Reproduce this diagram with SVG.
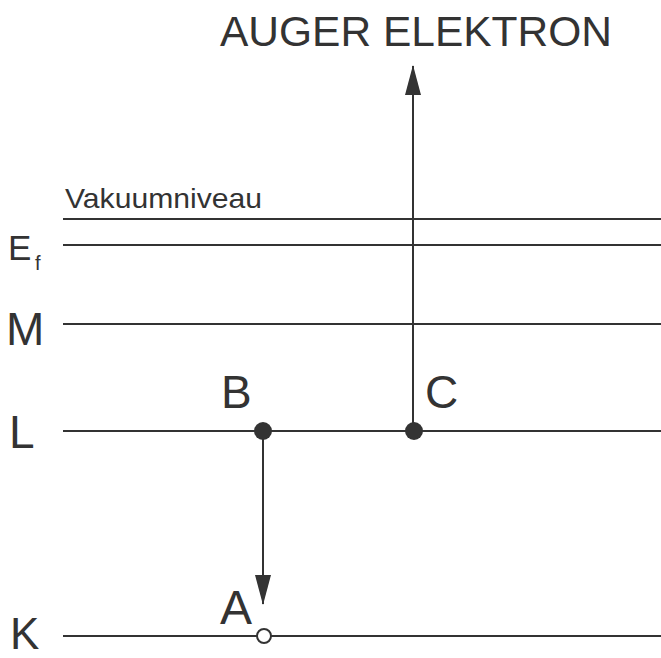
<svg xmlns="http://www.w3.org/2000/svg" width="661" height="658" viewBox="0 0 661 658">
<defs>
<style>
.lvl{stroke:#333;stroke-width:2.2;fill:none}
.t{font-family:"Liberation Sans",Arial,sans-serif;fill:#333}
.ar{stroke:#333;stroke-width:2;fill:none}
</style>
<marker id="ah" viewBox="0 0 30 16" refX="29" refY="8" markerWidth="30" markerHeight="16" markerUnits="userSpaceOnUse" orient="auto">
<path d="M0,0 L30,8 L0,16 Z" fill="#333"/>
</marker>
</defs>
<rect width="661" height="658" fill="#fff"/>
<g id="levels">
<g id="vakuum"><line class="lvl" x1="63" y1="219" x2="661" y2="219"/><text class="t" x="65" y="208" font-size="28" textLength="197" lengthAdjust="spacingAndGlyphs">Vakuumniveau</text></g>
<g id="ef"><line class="lvl" x1="63" y1="245" x2="661" y2="245"/><text class="t" x="8" y="260" font-size="35">E</text><text class="t" x="35" y="270" font-size="20">f</text></g>
<g id="M"><line class="lvl" x1="63" y1="324" x2="661" y2="324"/><text class="t" x="6" y="345" font-size="46">M</text></g>
<g id="L"><line class="lvl" x1="63" y1="431" x2="661" y2="431"/><text class="t" x="9" y="448" font-size="46">L</text></g>
<g id="K"><line class="lvl" x1="63" y1="636" x2="661" y2="636"/><text class="t" x="10" y="649" font-size="44">K</text></g>
</g>
<g id="connectors">
<line class="ar" x1="413" y1="431" x2="413" y2="66" marker-end="url(#ah)"/>
<line class="ar" x1="263" y1="431" x2="263" y2="604" marker-end="url(#ah)"/>
</g>
<g id="B"><circle cx="263" cy="431" r="9" fill="#333"/><text class="t" x="221" y="408" font-size="46">B</text></g>
<g id="C"><circle cx="414" cy="431" r="9" fill="#333"/><text class="t" x="425" y="408" font-size="46">C</text></g>
<g id="A"><circle cx="264" cy="636" r="7" fill="#fff" stroke="#333" stroke-width="2"/><text class="t" x="220" y="624" font-size="48">A</text></g>
<g id="auger"><text class="t" x="220" y="46" font-size="42" textLength="392" lengthAdjust="spacingAndGlyphs">AUGER ELEKTRON</text></g>
</svg>
